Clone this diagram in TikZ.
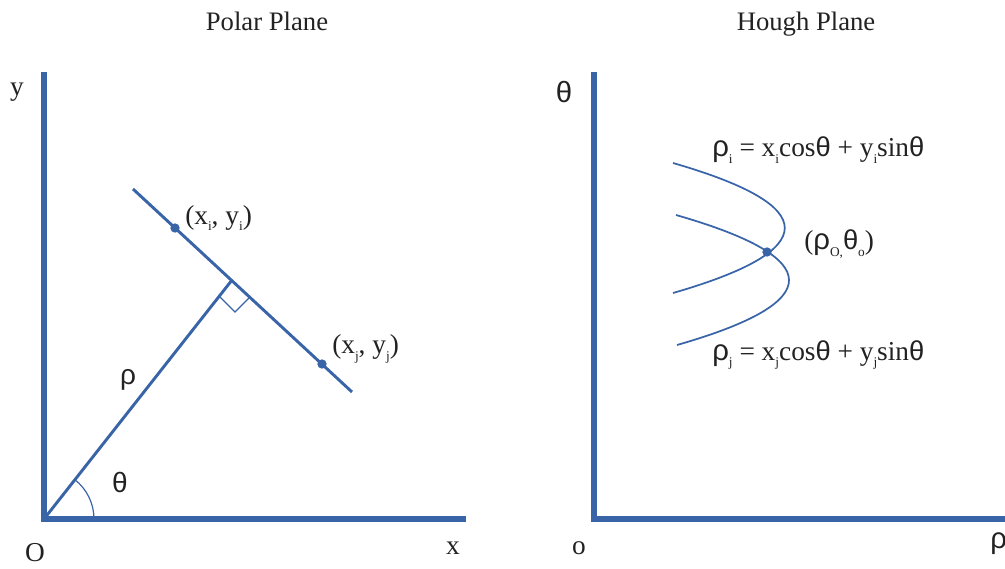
\documentclass[tikz,border=0pt]{standalone}
\usepackage{fontspec}
\setmainfont{Liberation Serif}
\newfontfamily\gk{Liberation Sans}
\definecolor{axblue}{HTML}{3965A8}
\definecolor{txt}{HTML}{222222}
\newcommand\sbs[1]{{\fontsize{10}{10}\selectfont\raisebox{-5pt}{#1}}}
\tikzset{
  axis/.style={draw=axblue, line width=4.5pt, line join=miter},
  mainln/.style={draw=axblue, line width=2.2pt},
  thinln/.style={draw=axblue, line width=0.9pt},
  crv/.style={draw=axblue, line width=1.3pt},
  dotp/.style={circle, fill=axblue, inner sep=0pt, minimum size=7pt},
  ttl/.style={font=\fontsize{20}{22}\selectfont, text=txt, anchor=base},
  lbl/.style={font=\fontsize{20.5}{22}\selectfont, text=txt, inner sep=0pt},
  eq/.style={font=\fontsize{20.5}{22}\selectfont, text=txt, inner sep=0pt},
}
\begin{document}
\begin{tikzpicture}[x=0.75pt,y=-0.75pt]
\useasboundingbox (0,0) rectangle (1005,568);
% titles
\node[ttl] (t1) at (267,30) {Polar Plane};
\node[ttl] (t2) at (806,30) {Hough Plane};
% left axes
\coordinate (ly) at (44,72);
\coordinate (O) at (44,519);
\coordinate (lx) at (466,519);
\draw[axis] (ly) -- (O) -- (lx);
\node[lbl] (ylab) at (17,92) {y};
\node[lbl] (olab) at (35,553) {O};
\node[lbl] (xlab) at (453,548) {x};
% line
\coordinate (la) at (133,189);
\coordinate (lb) at (352,392);
\coordinate (F) at (232,280);
\draw[mainln] (la) -- (lb);
\draw[mainln] (O) -- (F);
\coordinate (r1) at (220,297);
\coordinate (r2) at (235,312);
\coordinate (r3) at (249,298);
\draw[thinln] (r1) -- (r2) -- (r3);
\node[dotp] (pi) at (175,228) {};
\node[dotp] (pj) at (322,364) {};
\node[lbl, anchor=west] (pil) at (185,218) {(x\sbs{i}, y\sbs{i})};
\node[lbl, anchor=west] (pjl) at (332,349) {(x\sbs{j}, y\sbs{j})};
\node[lbl, font=\gk\fontsize{21}{23}\selectfont] (rho) at (128,380) {ρ};
\draw[thinln] ([shift={(0:50)}]O) arc[start angle=0, end angle=-52, radius=50];
\node[lbl, font=\gk\fontsize{21}{23}\selectfont] (th) at (120,482) {θ};
% right axes
\coordinate (ry) at (594,72);
\coordinate (O2) at (594,519);
\coordinate (rx) at (1010,519);
\draw[axis] (ry) -- (O2) -- (rx);
\node[lbl, font=\gk\fontsize{22}{24}\selectfont] (th2) at (564,92) {θ};
\node[lbl] (o2) at (579,548) {o};
\node[lbl, font=\gk\fontsize{22}{24}\selectfont, anchor=west] (rho2) at (990,544) {ρ};
% curves
\coordinate (a0) at (673,163);
\coordinate (a1) at (673,293);
\coordinate (b0) at (676,215);
\coordinate (b1) at (677,345);
\draw[crv] (a0) .. controls (822,206) and (822,250) .. (a1);
\draw[crv] (b0) .. controls (826,258) and (827,302) .. (b1);
\node[dotp] (X) at (767,252) {};
\node[eq, anchor=west] (xl) at (804,244) {({\gk\fontsize{22}{23}\selectfont ρ}\sbs{O,}{\gk θ}\sbs{o})};
\node[eq, anchor=west] (ei) at (712,150) {{\gk\fontsize{22}{23}\selectfont ρ}\sbs{i} = x\sbs{i}cos{\gk θ} + y\sbs{i}sin{\gk θ}};
\node[eq, anchor=west] (ej) at (712,355) {{\gk\fontsize{22}{23}\selectfont ρ}\sbs{j} = x\sbs{j}cos{\gk θ} + y\sbs{j}sin{\gk θ}};
\end{tikzpicture}
\end{document}
